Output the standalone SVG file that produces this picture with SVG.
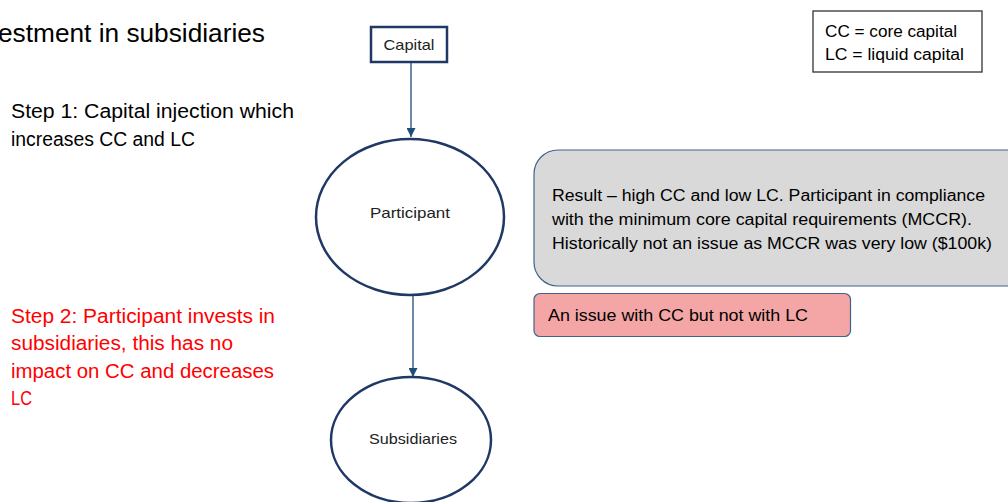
<svg xmlns="http://www.w3.org/2000/svg" width="1008" height="502" viewBox="0 0 1008 502">
<defs>
<style>
text{font-family:"Liberation Sans",Arial,sans-serif;fill:#000}
.node{fill:#fff;stroke:#1F3864;stroke-width:2.5}
.conn{stroke:#1F4E79;stroke-width:1.3;fill:none}
.step{font-size:19.5px}
.red{fill:#FF0000}
.box{font-size:16px}
.lbl{font-size:15px;text-anchor:middle;fill:#222}
</style>
<marker id="arr" viewBox="0 0 10 10" refX="10" refY="5" markerWidth="9" markerHeight="9" markerUnits="userSpaceOnUse" orient="auto">
<path d="M0,0 L10,5 L0,10 z" fill="#1F4E79"/>
</marker>
</defs>
<rect width="1008" height="502" fill="#fff"/>
<text x="-2" y="42" font-size="25" textLength="267" lengthAdjust="spacingAndGlyphs">estment in subsidiaries</text>
<g id="step1">
<text class="step" x="11" y="118" textLength="283" lengthAdjust="spacingAndGlyphs">Step 1: Capital injection which</text>
<text class="step" x="11" y="146" textLength="184" lengthAdjust="spacingAndGlyphs">increases CC and LC</text>
</g>
<g id="step2">
<text class="step red" x="11" y="323" textLength="264" lengthAdjust="spacingAndGlyphs">Step 2: Participant invests in</text>
<text class="step red" x="11" y="350" textLength="222" lengthAdjust="spacingAndGlyphs">subsidiaries, this has no</text>
<text class="step red" x="11" y="378" textLength="263" lengthAdjust="spacingAndGlyphs">impact on CC and decreases</text>
<text class="step red" x="11" y="405" textLength="21" lengthAdjust="spacingAndGlyphs">LC</text>
</g>
<g id="connectors">
<line class="conn" x1="411" y1="62" x2="411" y2="137" marker-end="url(#arr)"/>
<line class="conn" x1="413" y1="296" x2="413" y2="377" marker-end="url(#arr)"/>
</g>
<g id="capital">
<rect class="node" x="371" y="27" width="76" height="35" stroke-width="2"/>
<text class="lbl" x="409" y="50" font-size="16" textLength="51" lengthAdjust="spacingAndGlyphs">Capital</text>
</g>
<g id="participant">
<ellipse class="node" cx="410" cy="217" rx="94" ry="78"/>
<text class="lbl" x="410" y="218" textLength="80" lengthAdjust="spacingAndGlyphs">Participant</text>
</g>
<g id="subsidiaries">
<ellipse class="node" cx="411" cy="440" rx="80" ry="63"/>
<text class="lbl" x="413" y="444" font-size="15.5" textLength="88" lengthAdjust="spacingAndGlyphs">Subsidiaries</text>
</g>
<g id="result">
<rect x="534" y="150" width="500" height="136" rx="24" fill="#D9D9D9" stroke="#41638A" stroke-width="1.2"/>
<text class="box" x="552" y="201" textLength="433" lengthAdjust="spacingAndGlyphs">Result – high CC and low LC. Participant in compliance</text>
<text class="box" x="552" y="225" textLength="420" lengthAdjust="spacingAndGlyphs">with the minimum core capital requirements (MCCR).</text>
<text class="box" x="552" y="249" textLength="440" lengthAdjust="spacingAndGlyphs">Historically not an issue as MCCR was very low ($100k)</text>
</g>
<g id="issue">
<rect x="534" y="293.5" width="316.5" height="43" rx="6" fill="#F4A6A6" stroke="#41638A" stroke-width="1.2"/>
<text class="box" x="548" y="321" textLength="260" lengthAdjust="spacingAndGlyphs">An issue with CC but not with LC</text>
</g>
<g id="legend">
<rect x="813" y="11" width="169" height="61" fill="#fff" stroke="#333" stroke-width="1.3"/>
<text class="box" x="825" y="37" textLength="132" lengthAdjust="spacingAndGlyphs">CC = core capital</text>
<text class="box" x="825" y="60" textLength="139" lengthAdjust="spacingAndGlyphs">LC = liquid capital</text>
</g>
</svg>
